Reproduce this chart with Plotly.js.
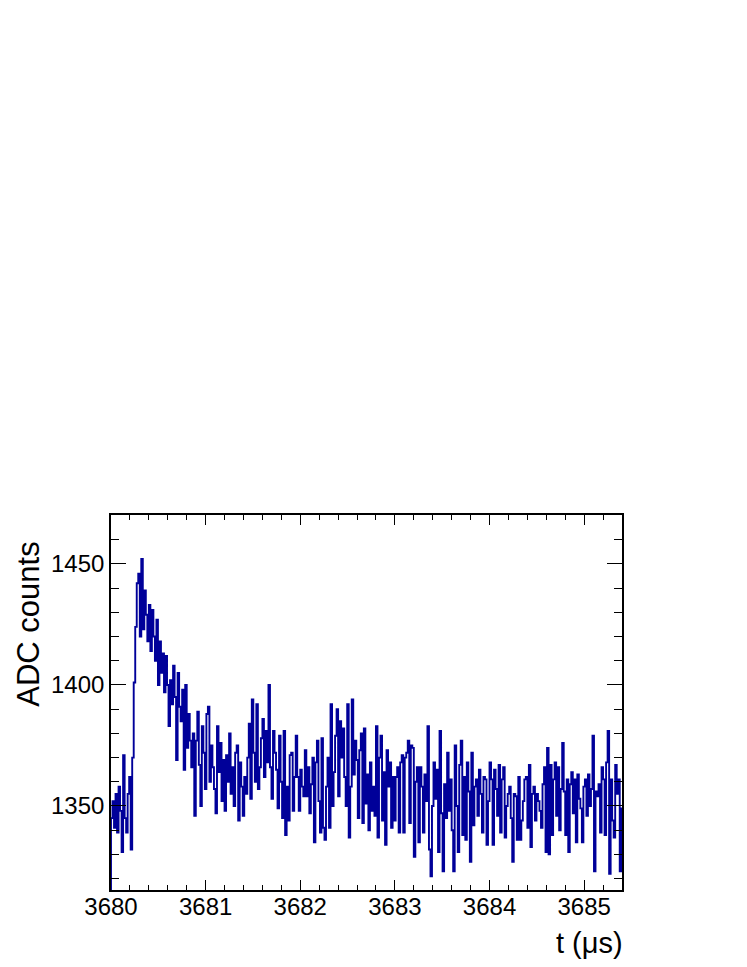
<!DOCTYPE html>
<html>
<head>
<meta charset="utf-8">
<script src="https://cdn.plot.ly/plotly-3.0.1.min.js"></script>
<style>
  html, body { margin: 0; padding: 0; background: #ffffff; }
  #chart { width: 747px; height: 967px; }
</style>
</head>
<body>
<div id="chart"></div>
<script>
// Histogram binning (time in microseconds)
const tStart = 3680.0;
const binWidth = 0.016;
// Content of the bin just left of the visible range (below the axis)
const adcBefore = [1300];
// ADC counts per bin
const adcSeg1 = [1345, 1352, 1341, 1355, 1339, 1358, 1348, 1331, 1371, 1345, 1339, 1355, 1362, 1332, 1370,
  1401, 1424, 1442, 1446, 1420, 1452,
  1423, 1439, 1429, 1418, 1433, 1414, 1431, 1420, 1410, 1427,
  1400, 1418, 1405, 1413, 1397, 1412, 1400, 1383, 1402, 1392,
  1408, 1395, 1369, 1405, 1391, 1385, 1398, 1365, 1400, 1374,
  1388, 1377, 1366, 1380, 1346, 1377, 1389, 1367, 1350, 1383,
  1372, 1357, 1388, 1391, 1360, 1375, 1366, 1357, 1347, 1383,
  1364, 1376, 1352, 1369, 1348, 1371, 1360, 1380, 1355, 1366,
  1350, 1372];
const adcSeg2 = [1375, 1344, 1368, 1358, 1346, 1362, 1355, 1370, 1384, 1353,
  1394, 1372, 1360, 1392, 1357, 1366, 1378, 1386, 1362, 1381,
  1368, 1400, 1366, 1353, 1381, 1372, 1365, 1349, 1379, 1360,
  1345, 1381, 1338, 1358, 1344, 1371, 1372, 1348, 1362, 1379,
  1362, 1348, 1365, 1358, 1354, 1373, 1354, 1366, 1347, 1359,
  1370, 1335, 1368, 1377, 1352, 1339, 1378, 1341, 1336, 1358,
  1370, 1341, 1392, 1350, 1364, 1379, 1390, 1354, 1385, 1370,
  1382, 1362, 1350, 1392, 1337, 1358, 1394, 1363, 1377, 1369,
  1345, 1373, 1380, 1343];
const adcSeg3 = [1382, 1351, 1363, 1340, 1368, 1348, 1358, 1346, 1383, 1337,
  1370, 1379, 1344, 1364, 1334, 1373, 1358, 1368, 1341, 1362,
  1344, 1362, 1366, 1339, 1368, 1371, 1339, 1370, 1372, 1377,
  1343, 1375, 1374, 1329, 1360, 1366, 1335, 1366, 1358, 1339,
  1363, 1352, 1383, 1332, 1321, 1350, 1368, 1353, 1365, 1331,
  1381, 1347, 1323, 1359, 1345, 1372, 1348, 1361, 1340, 1323,
  1375, 1350, 1331, 1367, 1377, 1338, 1362, 1336, 1368, 1356,
  1327, 1372, 1342, 1358, 1361, 1346, 1365, 1355, 1339, 1362,
  1361, 1334, 1352, 1368];
const adcSeg4 = [1361, 1334, 1365, 1357, 1346, 1367, 1339, 1361, 1366, 1337,
  1350, 1355, 1358, 1345, 1327, 1355, 1354, 1336, 1362, 1336,
  1344, 1352, 1361, 1362, 1341, 1367, 1333, 1355, 1358, 1344,
  1355, 1352, 1348, 1341, 1359, 1366, 1331, 1374, 1330, 1367,
  1338, 1361, 1368, 1346, 1366, 1340, 1357, 1376, 1356, 1338,
  1361, 1331, 1359, 1364, 1347, 1361, 1335, 1363, 1353, 1349,
  1335, 1358, 1361, 1346, 1363, 1350, 1357, 1379, 1323, 1356,
  1354, 1359, 1339, 1366, 1361, 1338, 1368, 1381, 1322, 1361,
  1344, 1337, 1367, 1355, 1361, 1323, 1349];
// Axis ticks
const xTickVals = [3680, 3681, 3682, 3683, 3684, 3685];
const xTickText = ["3680", "3681", "3682", "3683", "3684", "3685"];
const yTickVals = [1350, 1400, 1450];
const yTickText = ["1350", "1400", "1450"];

const adc = adcSeg1.concat(adcSeg2, adcSeg3, adcSeg4);
// step outline: left edge of each bin, plus closing right edge of last bin
const ys = adcBefore.concat(adc);
const xs = ys.map((_, k) => tStart + (k - adcBefore.length) * binWidth);
xs.push(tStart + adc.length * binWidth);
ys.push(adc[adc.length - 1]);

const font = 'Liberation Sans, Arial, Helvetica, sans-serif';

const trace = {
  x: xs, y: ys, type: 'scatter', mode: 'lines',
  line: { shape: 'hv', color: '#000099', width: 1.9 },
  hoverinfo: 'skip'
};

const layout = {
  width: 747, height: 967,
  margin: { l: 111, r: 125, t: 515, b: 77, pad: 0 },
  paper_bgcolor: '#ffffff', plot_bgcolor: '#ffffff',
  showlegend: false,
  font: { family: font, color: '#000000', size: 25 },
  xaxis: {
    range: [3680, 3685.40],
    tickmode: 'array', tickvals: xTickVals, ticktext: xTickText,
    ticks: 'inside', ticklen: 10, tickwidth: 1, tickcolor: '#000',
    minor: { dtick: 0.2, tick0: 3680, ticks: 'inside', ticklen: 5, tickwidth: 1, tickcolor: '#000', showgrid: false },
    showline: true, linecolor: '#000', linewidth: 1.8, mirror: 'ticks',
    showgrid: false, zeroline: false,
    ticklabelstandoff: -6,
    tickfont: { family: font, size: 24, color: '#000' }
  },
  yaxis: {
    range: [1315.3, 1470.2],
    tickmode: 'array', tickvals: yTickVals, ticktext: yTickText,
    ticks: 'inside', ticklen: 15, tickwidth: 1, tickcolor: '#000',
    minor: { dtick: 10, tick0: 1350, ticks: 'inside', ticklen: 8, tickwidth: 1, tickcolor: '#000', showgrid: false },
    showline: true, linecolor: '#000', linewidth: 1.8, mirror: 'ticks',
    showgrid: false, zeroline: false,
    tickfont: { family: font, size: 24, color: '#000' }
  },
  annotations: [
    { text: 'ADC counts', xref: 'paper', yref: 'paper', x: -0.162, y: 1.0 - 25/375,
      xanchor: 'center', yanchor: 'top', textangle: -90, showarrow: false,
      font: { family: font, size: 31, color: '#000' } },
    { text: 't (\u03bcs)', xref: 'paper', yref: 'paper', x: 1.0, y: -0.093, xshift: 3,
      xanchor: 'right', yanchor: 'top', showarrow: false,
      font: { family: font, size: 29, color: '#000' } }
  ]
};

Plotly.newPlot('chart', [trace], layout, { staticPlot: true, displayModeBar: false });
</script>
</body>
</html>
